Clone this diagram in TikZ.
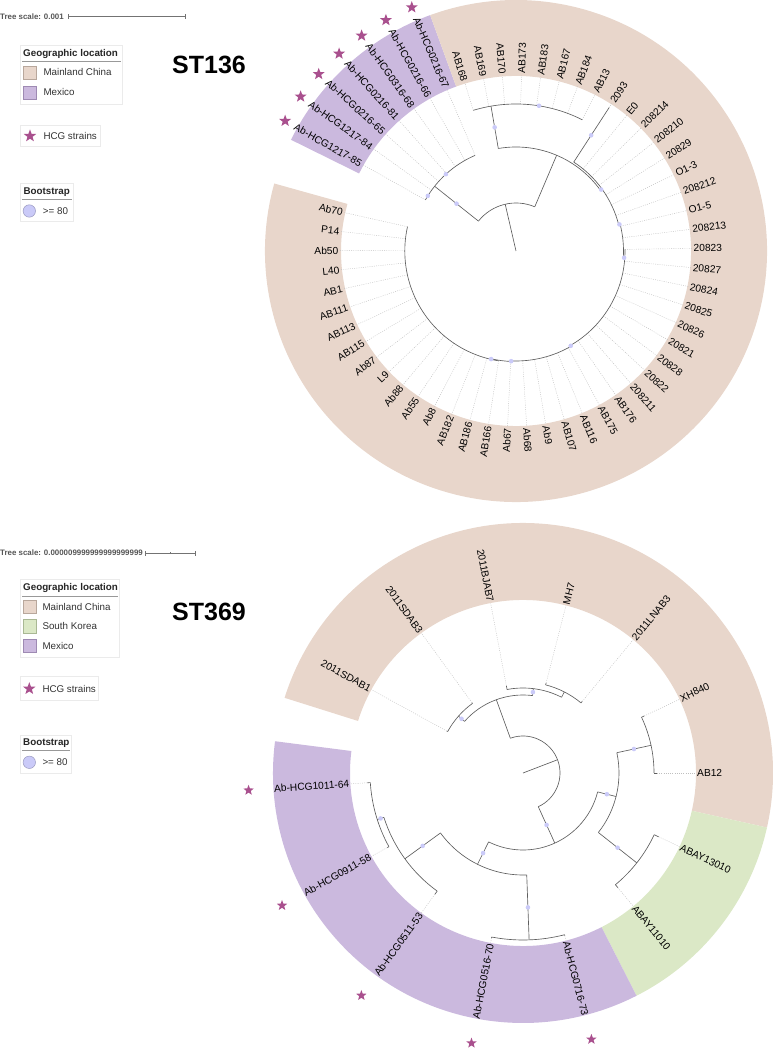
\documentclass[tikz,border=0pt]{standalone}
\usepackage{fontspec}
\setmainfont{Liberation Sans}
\usetikzlibrary{shapes.geometric}
\definecolor{china}{HTML}{E8D6CB}
\definecolor{chinaB}{HTML}{B8A79C}
\definecolor{mex}{HTML}{CBB9DE}
\definecolor{mexB}{HTML}{9E8AB3}
\definecolor{kor}{HTML}{DBE8C6}
\definecolor{korB}{HTML}{A9B894}
\definecolor{starc}{HTML}{A9508E}
\definecolor{boot}{HTML}{CACAF8}
\definecolor{bootB}{HTML}{9A9AC0}
\definecolor{treec}{HTML}{5E5E5E}
\definecolor{scalec}{HTML}{555555}
\newcommand{\TArc}[3]{\draw[tree] (#1:#3) arc[start angle=#1,end angle=#2,radius=#3pt];}
\newcommand{\TRad}[3]{\draw[tree] (#1:#2) -- (#1:#3);}
\newcommand{\TDot}[2]{\fill[boot] (#1:#2) circle[radius=2.3pt];}
\newcommand{\TBand}[5]{\fill[#5] (#1:#3) arc[start angle=#1,end angle=#2,radius=#3pt] -- (#2:#4) arc[start angle=#2,end angle=#1,radius=#4pt] -- cycle;}
\begin{document}
\begin{tikzpicture}[x=1pt,y=1pt,
  tree/.style={draw=treec,line width=0.65pt},
  leader/.style={draw=black!25,line width=0.45pt,dash pattern=on 0.9pt off 1.3pt},
  leaf/.style={font=\fontsize{10.2}{12}\selectfont,inner sep=0pt,text=black},
  hstar/.style={star,star points=5,star point ratio=2.4,fill=starc,draw=none,inner sep=0pt,minimum size=#1},
  hstar/.default=13pt,
  legbox/.style={draw=black!8,line width=0.6pt,fill=white},
  legtitle/.style={font=\bfseries\fontsize{9.8}{11}\selectfont,text=black!85,inner sep=0pt,anchor=base west},
  legtext/.style={font=\fontsize{9.8}{11}\selectfont,text=black!80,inner sep=0pt,anchor=base west},
  legline/.style={draw=black!40,line width=0.8pt},
  sttitle/.style={font=\bfseries\fontsize{25}{30}\selectfont,inner sep=0pt,anchor=base west},
  scaletext/.style={font=\bfseries\fontsize{7.9}{9}\selectfont,text=scalec,inner sep=0pt,anchor=base west},
  scalebar/.style={draw=black!55,line width=0.6pt}
]
\useasboundingbox (0,0) rectangle (772,1049);

% ================= TOP TREE (ST136) =================
\begin{scope}[shift={(516,798)}]
  \TBand{153.7}{110}{175}{251}{mex}
  \TBand{110}{-195.6}{175}{251}{china}
  \foreach \n/\tip [count=\i from 0] in {
    Ab-HCG1217-85/104, Ab-HCG1217-84/104, Ab-HCG0216-65/104, Ab-HCG0216-81/104,
    Ab-HCG0316-68/104, Ab-HCG0216-66/104, Ab-HCG0216-67/104,
    AB168/147, AB169/147, AB170/147, AB173/147, AB183/147, AB167/147, AB184/147, AB13/147,
    2093/171,
    E0/106, 208214/106, 208210/106, 20829/106, O1-3/106, 208212/106,
    O1-5/107.5, 208213/107.5,
    20823/109, 20827/109, 20824/109, 20825/109, 20826/109, 20821/109, 20828/109, 20822/109, 208211/109, AB176/109,
    AB175/110, AB116/110, AB107/110, Ab9/110, Ab68/110,
    Ab67/110.6,
    AB166/111.2, AB186/111.2, AB182/111.2, Ab8/111.2, Ab55/111.2, Ab88/111.2, L9/111.2, Ab87/111.2,
    AB115/111.2, AB113/111.2, AB111/111.2, AB1/111.2, L40/111.2, Ab50/111.2, P14/111.2, Ab70/111.2}{
    \pgfmathsetmacro\ang{150.6-6.24*\i}
    \draw[leader] (\ang:\tip) -- (\ang:176);
    \pgfmathtruncatemacro\lside{(\ang>90)||(\ang<-90)}
    \ifnum\lside=1
      \pgfmathsetmacro\rot{\ang+180}
      \node[leaf,anchor=east,rotate=\rot] (ta\i) at (\ang:177.5) {\n};
    \else
      \node[leaf,anchor=west,rotate=\ang] (ta\i) at (\ang:177.5) {\n};
    \fi
  }
  \foreach \i in {0,...,6}{
    \pgfmathsetmacro\ang{150.6-6.24*\i}
    \node[hstar=12.5pt] (tstar\i) at (\ang:265) {};
  }
  % branches
  \draw[tree] (0,0) -- (103:48);
  \TArc{141.5}{67}{48}
  \TRad{141.5}{48}{104}
  \TArc{150.6}{113.2}{104}
  \TRad{67}{48}{104}
  \TArc{99.8}{35.8}{104}
  \TRad{99.8}{104}{147}
  \TArc{106.9}{63.2}{147}
  \TRad{35.8}{104}{106}
  \TArc{57}{14.4}{106}
  \TRad{57}{106}{171}
  \TRad{14.4}{106}{107.5}
  \TArc{14.4}{-3.6}{107.5}
  \TRad{-3.6}{107.5}{109}
  \TArc{0.8}{-60}{109}
  \TRad{-60}{109}{110}
  \TArc{-60}{-92.5}{110}
  \TRad{-92.5}{110}{110.6}
  \TArc{-92.5}{-103}{110.6}
  \TRad{-103}{110.6}{111.2}
  \TArc{-99}{-192.6}{111.2}
  % bootstrap
  \TDot{141.5}{76} \TDot{148}{104} \TDot{132.4}{104} \TDot{99.8}{125.5}
  \TDot{81}{147} \TDot{57}{138} \TDot{35.8}{105} \TDot{14.4}{106.8}
  \TDot{-3.6}{108.3} \TDot{-60}{109.5} \TDot{-92.5}{110.3} \TDot{-103}{110.9}
\end{scope}

% ================= BOTTOM TREE (ST369) =================
\begin{scope}[shift={(523,276)}]
  \TBand{162.5}{-12.6}{173}{250}{china}
  \TBand{-12.6}{-63}{173}{250}{kor}
  \TBand{-63}{-187.3}{173}{250}{mex}
  \foreach \n/\ar/\tip [count=\i from 0] in {
    2011SDAB1/86/87, 2011SDAB3/86/87, 2011BJAB7/85/89, MH7/91/93, 2011LNAB3/91/93,
    XH840/131/134, AB12/131/134, ABAY13010/145/150, ABAY11010/145/149,
    Ab-HCG0716-73/167/168, Ab-HCG0516-70/167/168, Ab-HCG0511-53/146/150,
    Ab-HCG0911-58/153/155, Ab-HCG1011-64/153/156}{
    \pgfmathsetmacro\ang{151.2-25.2*\i}
    \draw[tree] (\ang:\ar) -- (\ang:\tip);
    \draw[leader] (\ang:\tip) -- (\ang:173);
    \pgfmathtruncatemacro\lside{(\ang>90)||(\ang<-90)}
    \ifnum\lside=1
      \pgfmathsetmacro\rot{\ang+180}
      \node[leaf,anchor=east,rotate=\rot] (tb\i) at (\ang:174) {\n};
    \else
      \node[leaf,anchor=west,rotate=\ang] (tb\i) at (\ang:174) {\n};
    \fi
  }
  \foreach \i in {9,...,13}{
    \pgfmathsetmacro\ang{151.2-25.2*\i}
    \node[hstar=11pt] (bstar\i) at (\ang:275) {};
  }
  \draw[tree] (0,0) -- (21:37);
  \TArc{110}{-65.6}{37}
  \TRad{110}{37}{78}
  \TArc{138.6}{83}{78}
  \TRad{138.6}{78}{86}
  \TArc{151.2}{126}{86}
  \TRad{83}{78}{85}
  \TArc{100.8}{63}{85}
  \TRad{63}{85}{91}
  \TArc{75.6}{50.4}{91}
  \TRad{-65.6}{37}{77}
  \TArc{-14.2}{-116.5}{77}
  \TRad{-14.2}{77}{96}
  \TArc{12.2}{-38.3}{96}
  \TRad{12.2}{96}{131}
  \TArc{25.2}{0}{131}
  \TRad{-38.3}{96}{145}
  \TArc{-25.2}{-50.4}{145}
  \TRad{-116.5}{77}{102}
  \TArc{-87.9}{-144}{102}
  \TRad{-87.9}{102}{167}
  \TArc{-75.6}{-100.8}{167}
  \TRad{-144}{102}{146}
  \TArc{-126}{-162.3}{146}
  \TRad{-162.3}{146}{153}
  \TArc{-151.2}{-176.4}{153}
  \TDot{138.6}{82} \TDot{83}{81.5} \TDot{-65.6}{57} \TDot{-14.2}{86.5}
  \TDot{12.2}{113.5} \TDot{-38.3}{120.5} \TDot{-116.5}{89.5} \TDot{-87.9}{134.5}
  \TDot{-144}{124} \TDot{-162.3}{149.5}
\end{scope}

% ================= LEGENDS (pixel coordinates, y down) =================
\begin{scope}[shift={(0pt,1049pt)},y=-1pt]
  % --- top ---
  \node[scaletext] (sc1) at (0,19.4) {Tree scale: 0.001};
  \coordinate (s1a) at (68.3,16.7); \coordinate (s1b) at (185,16.7);
  \draw[scalebar] (s1a) -- (s1b);
  \draw[scalebar] (68.3,14.2) -- (68.3,19.2);
  \draw[scalebar] (185,14.2) -- (185,19.2);
  \draw[scalebar] (127.7,15.9) -- (127.7,17.5);

  \node[sttitle] (st1) at (172,73.3) {ST136};

  \draw[legbox] (20.7,45) rectangle (122.3,104);
  \node[legtitle] (g1t) at (23,56.7) {Geographic location};
  \draw[legline] (22,61) -- (120.5,61);
  \draw[fill=china,draw=chinaB,line width=0.5pt] (23.3,66) rectangle (36,79.3);
  \node[legtext] (g1a) at (43.3,76) {Mainland China};
  \draw[fill=mex,draw=mexB,line width=0.5pt] (23.3,86) rectangle (36,99.3);
  \node[legtext] (g1b) at (43.3,96) {Mexico};

  \draw[legbox] (20.7,125) rectangle (100,146.7);
  \node[hstar=13pt] (h1s) at (30,136) {};
  \node[legtext] (h1t) at (43.3,139.5) {HCG strains};

  \draw[legbox] (20.7,183.3) rectangle (73.3,221.7);
  \node[legtitle] (b1t) at (23.3,195) {Bootstrap};
  \draw[legline] (22,199.3) -- (71.5,199.3);
  \draw[fill=boot,draw=bootB,line width=0.5pt] (29.3,211) circle[radius=6.2pt];
  \node[legtext] (b1a) at (42.7,214.8) {>= 80};

  % --- bottom ---
  \node[scaletext] (sc2) at (0,556) {Tree scale: 0.000009999999999999999};
  \coordinate (s2a) at (145.7,553.3); \coordinate (s2b) at (195.7,553.3);
  \draw[scalebar] (s2a) -- (s2b);
  \draw[scalebar] (145.7,550.8) -- (145.7,555.8);
  \draw[scalebar] (195.7,550.8) -- (195.7,555.8);
  \draw[scalebar] (170.7,552.5) -- (170.7,554.1);

  \node[sttitle] (st2) at (172,621) {ST369};

  \draw[legbox] (20.7,579.3) rectangle (119.3,657.3);
  \node[legtitle] (g2t) at (23,591) {Geographic location};
  \draw[legline] (22,596) -- (118,596);
  \draw[fill=china,draw=chinaB,line width=0.5pt] (23,600.3) rectangle (36,613.6);
  \node[legtext] (g2a) at (42.3,610.6) {Mainland China};
  \draw[fill=kor,draw=korB,line width=0.5pt] (23,619.6) rectangle (36,632.9);
  \node[legtext] (g2b) at (42.3,630) {South Korea};
  \draw[fill=mex,draw=mexB,line width=0.5pt] (23,639.3) rectangle (36,652.6);
  \node[legtext] (g2c) at (42.3,649.6) {Mexico};

  \draw[legbox] (20,676.7) rectangle (98.3,700);
  \node[hstar=13pt] (h2s) at (29.3,688.7) {};
  \node[legtext] (h2t) at (42.3,692.3) {HCG strains};

  \draw[legbox] (20.7,735) rectangle (71.7,773.3);
  \node[legtitle] (b2t) at (23,746) {Bootstrap};
  \draw[legline] (22,750.7) -- (70,750.7);
  \draw[fill=boot,draw=bootB,line width=0.5pt] (29.3,762.3) circle[radius=6.2pt];
  \node[legtext] (b2a) at (42.3,766) {>= 80};
\end{scope}
\end{tikzpicture}
\end{document}
